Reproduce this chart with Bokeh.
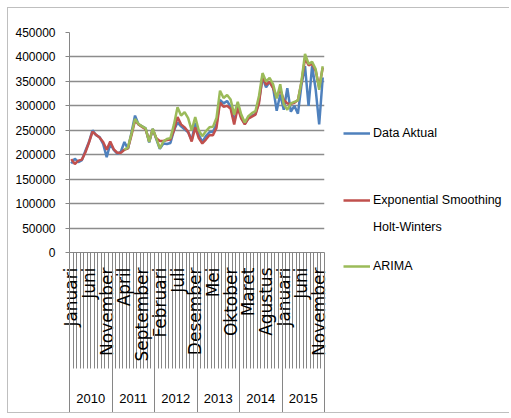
import math
import numpy as np
from bokeh.plotting import figure
from bokeh.models import Range1d, LinearAxis, FixedTicker, Legend, LegendItem, NumeralTickFormatter
from bokeh.embed import file_html
from bokeh.resources import INLINE

years = ["2010", "2011", "2012", "2013", "2014", "2015"]
months = ["Januari", "Februari", "Maret", "April", "Mei", "Juni", "Juli",
          "Agustus", "September", "Oktober", "November", "Desember"]
y_ticks = [0, 50000, 100000, 150000, 200000, 250000, 300000, 350000, 400000, 450000]

data_aktual = [182000, 192000, 185000, 189000, 208000, 226000, 250000, 240000, 236000, 222000, 195000, 222000,
               210000, 202000, 206000, 226000, 212000, 245000, 280000, 262000, 258000, 254000, 225000, 253000,
               232000, 212000, 223000, 222000, 224000, 250000, 266000, 258000, 252000, 246000, 230000, 265000,
               241000, 226000, 238000, 246000, 247000, 262000, 312000, 305000, 310000, 298000, 268000, 300000,
               276000, 263000, 275000, 280000, 283000, 310000, 358000, 338000, 349000, 337000, 290000, 323000,
               292000, 336000, 288000, 300000, 284000, 343000, 381000, 300000, 382000, 334000, 262000, 358000]

holt_winters = [191000, 181000, 188000, 190000, 205000, 225000, 247000, 241000, 235000, 226000, 210000, 227000,
                211000, 204000, 204000, 210000, 213000, 240000, 270000, 262000, 257000, 252000, 228000, 252000,
                234000, 228000, 228000, 230000, 231000, 250000, 277000, 262000, 256000, 247000, 227000, 256000,
                234000, 223000, 231000, 240000, 240000, 255000, 307000, 298000, 300000, 294000, 262000, 296000,
                274000, 262000, 274000, 278000, 282000, 305000, 361000, 343000, 349000, 336000, 318000, 333000,
                312000, 305000, 304000, 306000, 312000, 348000, 397000, 383000, 386000, 372000, 338000, 378000]

arima = [None] * 15 + [210000, 215000, 243000, 273000, 263000, 258000, 254000, 226000, 253000,
                       234000, 213000, 227000, 232000, 234000, 262000, 297000, 280000, 287000, 275000, 250000, 277000,
                       250000, 238000, 248000, 256000, 257000, 275000, 331000, 316000, 322000, 313000, 282000, 308000,
                       282000, 266000, 279000, 285000, 289000, 320000, 367000, 350000, 357000, 344000, 315000, 344000,
                       303000, 292000, 305000, 308000, 311000, 350000, 406000, 386000, 390000, 375000, 333000, 381000]

series_names = ["Data Aktual", "Exponential Smoothing", "Holt-Winters", "ARIMA"]
colors = ["#4f81bd", "#c0504d", "#9bbb59"]

n = len(data_aktual)
x = list(range(n))
arima_arr = np.array(arima, dtype=float)
GRAY = "#868686"
SANS = "Liberation Sans"

p = figure(width=502, height=406, x_range=Range1d(-0.5, n - 0.5), y_range=Range1d(0, 450000),
           output_backend="svg", toolbar_location=None,
           min_border_left=61, min_border_top=24, min_border_right=186, min_border_bottom=162)
p.margin = (7, 0, 0, 7)
p.styles = {"border-top": "1px solid #bfbfbf", "border-left": "1px solid #bfbfbf",
            "border-bottom": "1px solid #bfbfbf"}
p.outline_line_color = None
p.background_fill_color = "white"
p.border_fill_color = "white"

# y axis
yt = FixedTicker(ticks=y_ticks)
ya = p.yaxis[0]
ya.ticker = yt
ya.formatter = NumeralTickFormatter(format="0")
ya.axis_line_color = GRAY
ya.major_tick_line_color = GRAY
ya.major_tick_out = 4
ya.major_tick_in = 0
ya.minor_tick_line_color = None
ya.major_label_standoff = 10
ya.major_label_text_font = SANS
ya.major_label_text_font_size = "12px"
ya.major_label_text_color = "#000000"
p.ygrid.ticker = yt
p.ygrid.grid_line_color = "#8c8c8c"
p.ygrid.grid_line_width = 1.5
p.xgrid.visible = False

# month axis
tick_idx = list(range(0, n, 5))
xa = p.xaxis[0]
xa.ticker = FixedTicker(ticks=tick_idx, minor_ticks=[i - 0.5 for i in range(n + 1)])
xa.major_label_overrides = {i: months[i % 12] for i in tick_idx}
xa.major_tick_out = 0
xa.major_tick_in = 0
xa.minor_tick_out = 116
xa.minor_tick_in = 0
xa.minor_tick_line_color = GRAY
xa.axis_line_color = GRAY
xa.major_label_orientation = math.pi / 2
xa.major_label_standoff = -101
xa.major_label_text_font = "DejaVu Sans"
xa.major_label_text_font_size = "17px"
xa.major_label_text_color = "#000000"

# year axis
year_centers = [5.5 + 12 * k for k in range(len(years))]
yr = LinearAxis(ticker=FixedTicker(ticks=year_centers, minor_ticks=[-0.5 + 12 * k for k in range(len(years) + 1)]),
                major_label_overrides={c: y for c, y in zip(year_centers, years)},
                axis_line_color=None, major_tick_out=0, major_tick_in=0,
                minor_tick_in=109, minor_tick_out=57, minor_tick_line_color=GRAY,
                major_label_standoff=-28, major_label_text_font=SANS,
                major_label_text_font_size="13px", major_label_text_color="#000000")
p.add_layout(yr, "below")

p.line(x, data_aktual, line_color=colors[0], line_width=2.5)
p.line(x, holt_winters, line_color=colors[1], line_width=2.5)
p.line(x, arima_arr, line_color=colors[2], line_width=2.5)

# legend: separate small canvas placed over the empty right part of the chart
q = figure(width=178, height=200, x_range=Range1d(0, 1), y_range=Range1d(0, 1),
           x_axis_location=None, y_axis_location=None,
           output_backend="svg", toolbar_location=None,
           min_border_left=0, min_border_right=0, min_border_top=0, min_border_bottom=0)
q.styles = {"position": "absolute", "left": "330px", "top": "100px"}
q.grid.visible = False
q.outline_line_color = None
q.background_fill_alpha = 0
q.border_fill_alpha = 0
# legend proxies use the same series; the y-range keeps them out of view
lb = q.line(x, data_aktual, line_color=colors[0], line_width=2.5)
lr = q.line(x, holt_winters, line_color=colors[1], line_width=2.5)
lgn = q.line(x, arima_arr, line_color=colors[2], line_width=2.5)
ld = q.line(x, holt_winters, line_alpha=0)


def mk_legend(items, loc):
    lg = Legend(items=items, location=loc, padding=0, margin=0, border_line_color=None,
                background_fill_alpha=0, glyph_width=27, glyph_height=20, label_height=20,
                label_standoff=3, spacing=7, label_text_font=SANS,
                label_text_font_size="12.5px", label_text_color="#000000")
    q.add_layout(lg)


mk_legend([LegendItem(label=series_names[0], renderers=[lb])], (13, 157))
mk_legend([LegendItem(label=series_names[1], renderers=[lr]),
           LegendItem(label=series_names[2], renderers=[ld])], (13, 63))
mk_legend([LegendItem(label=series_names[3], renderers=[lgn])], (13, 24))

open("out.html", "w").write(file_html([p, q], INLINE))
